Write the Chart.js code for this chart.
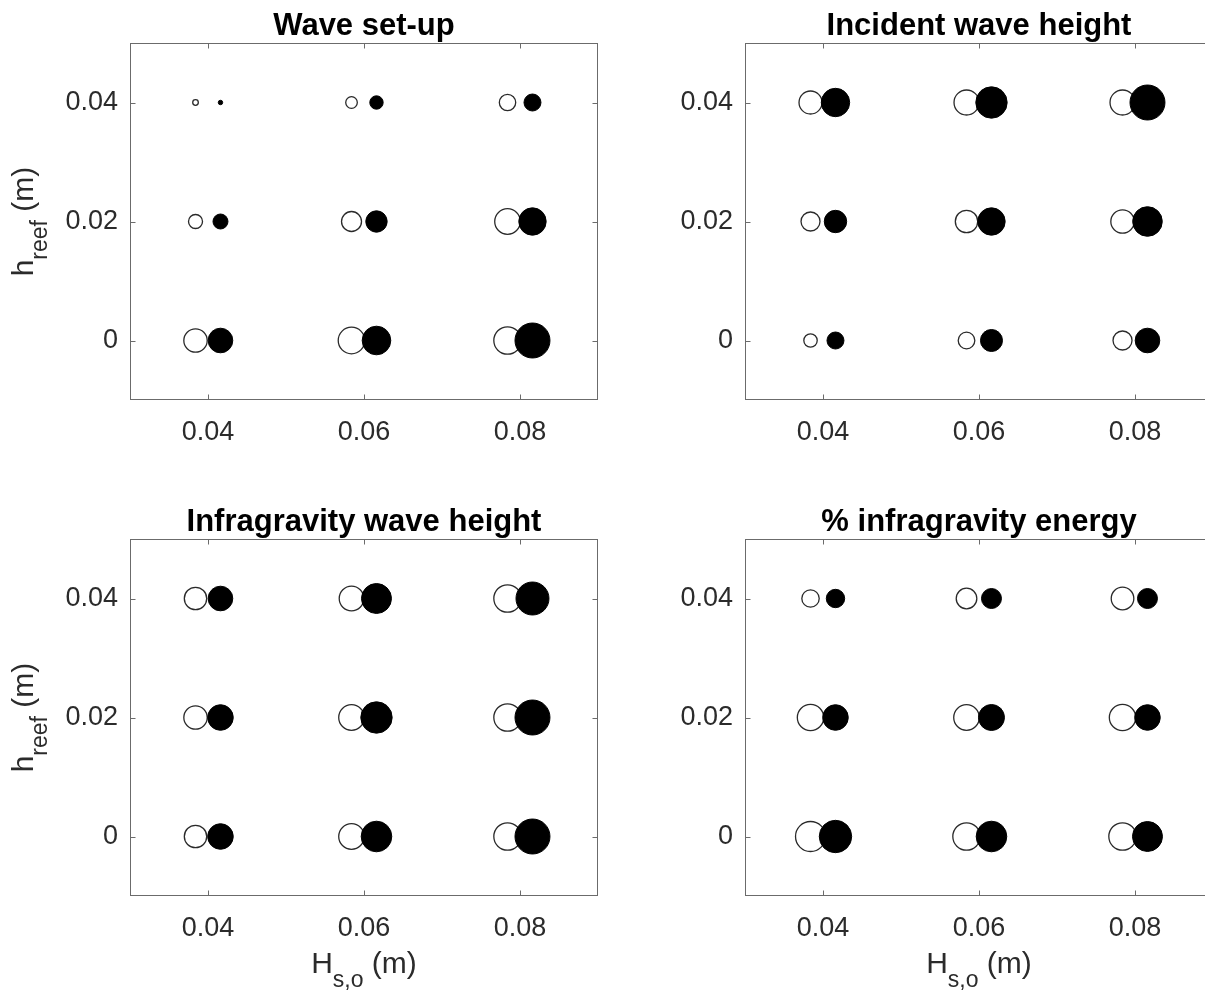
<!DOCTYPE html>
<html>
<head>
<meta charset="utf-8">
<script src="https://cdn.jsdelivr.net/npm/chart.js@4.4.0/dist/chart.umd.min.js"></script>
<style>
  html, body { margin: 0; padding: 0; background: #fff; overflow: hidden; }
  #wrap { position: relative; width: 1205px; height: 996px; overflow: hidden; background: #fff; }
  canvas { position: absolute; }
</style>
</head>
<body>
<div id="wrap">
  <canvas id="c1" width="620" height="500" style="left:0px;top:0px"></canvas>
  <canvas id="c2" width="620" height="500" style="left:615px;top:0px"></canvas>
  <canvas id="c3" width="620" height="500" style="left:0px;top:496px"></canvas>
  <canvas id="c4" width="620" height="500" style="left:615px;top:496px"></canvas>
</div>
<script>
// grid of runs
const xVals = [0.04, 0.06, 0.08];   // H_s,o (m)
const yVals = [0, 0.02, 0.04];      // h_reef (m)
const xTicks = [0.04, 0.06, 0.08];
const yTicks = [0, 0.02, 0.04];

const titles = ["Wave set-up", "Incident wave height", "Infragravity wave height", "% infragravity energy"];

// marker sizes
// rows: h_reef = 0, 0.02, 0.04 ; cols: H_s,o = 0.04, 0.06, 0.08
const setupOpen      = [[12.2, 13.8, 14.2], [7.5, 10.5, 13.3], [3.3, 6.3, 8.7]];
const setupFilled    = [[12.8, 14.8, 18.0], [8.0, 11.2, 14.2], [2.7, 7.2, 9.0]];
const incidentOpen   = [[7.2, 8.8, 10.0], [10.0, 11.7, 12.2], [12.0, 13.0, 13.0]];
const incidentFilled = [[9.0, 11.5, 12.8], [11.7, 14.2, 15.3], [14.7, 16.2, 18.0]];
const igOpen         = [[11.7, 13.3, 14.2], [12.2, 13.3, 14.2], [11.7, 12.8, 14.2]];
const igFilled       = [[13.3, 15.8, 18.0], [13.3, 16.2, 18.0], [12.8, 15.5, 17.0]];
const energyOpen     = [[15.5, 14.2, 14.2], [13.7, 13.3, 13.7], [9.2, 10.8, 11.8]];
const energyFilled   = [[16.7, 15.8, 15.5], [13.3, 13.5, 13.3], [9.7, 10.5, 10.5]];

const pairOffset = 0.0016; // open marker left of the tick, filled marker right

const FONT = '"Liberation Sans", Arial, Helvetica, sans-serif';
const TEXT = "#2b2b2b";
const AXIS = "#6b6b6b";

function points(sizes, dx) {
    const out = [];
    yVals.forEach((y, i) => {
        xVals.forEach((x, j) => {
            out.push({ x: x + dx, y: y, r: sizes[i][j] - 0.5 });
        });
    });
    return out;
}

// draw text with one subscript part, centred on 0
function drawRich(ctx, parts) {
    let total = 0;
    parts.forEach(p => {
        ctx.font = p.size + "px " + FONT;
        p.w = ctx.measureText(p.t).width;
        total += p.w;
    });
    let x = -total / 2;
    ctx.textAlign = "left";
    ctx.textBaseline = "alphabetic";
    parts.forEach(p => {
        ctx.font = p.size + "px " + FONT;
        ctx.fillText(p.t, x, p.dy);
        x += p.w;
    });
}

//box, inward ticks, titles and axis labels (matlab look)
const framePlugin = {
    id: "frame",
    afterDraw(chart, args, opts) {
        const { ctx, chartArea: a, scales } = chart;
        const L = Math.round(a.left) + 0.5, R = Math.round(a.right) - 0.5;
        const T = Math.round(a.top) + 0.5, B = Math.round(a.bottom) - 0.5;
        ctx.save();
        ctx.strokeStyle = AXIS;
        ctx.lineWidth = 1;
        ctx.strokeRect(L, T, R - L, B - T);
        ctx.beginPath();
        xTicks.forEach(v => {
            const px = Math.round(scales.x.getPixelForValue(v)) + 0.5;
            ctx.moveTo(px, B); ctx.lineTo(px, B - 5);
            ctx.moveTo(px, T); ctx.lineTo(px, T + 5);
        });
        yTicks.forEach(v => {
            const py = Math.round(scales.y.getPixelForValue(v)) + 0.5;
            ctx.moveTo(L, py); ctx.lineTo(L + 5, py);
            ctx.moveTo(R, py); ctx.lineTo(R - 5, py);
        });
        ctx.stroke();

        const cx = (a.left + a.right) / 2;
        ctx.fillStyle = "#000";
        ctx.font = "bold 31px " + FONT;
        ctx.textAlign = "center";
        ctx.textBaseline = "alphabetic";
        ctx.fillText(opts.title, cx, a.top - 8);

        ctx.fillStyle = TEXT;
        if (opts.xLabel) {
            ctx.save();
            ctx.translate(cx, a.bottom + 77);
            drawRich(ctx, [
                { t: "H", size: 30, dy: 0 },
                { t: "s,o", size: 23, dy: 14 },
                { t: " (m)", size: 30, dy: 0 }
            ]);
            ctx.restore();
        }
        if (opts.yLabel) {
            ctx.save();
            ctx.translate(33, (a.top + a.bottom) / 2);
            ctx.rotate(-Math.PI / 2);
            drawRich(ctx, [
                { t: "h", size: 30, dy: 0 },
                { t: "reef", size: 23, dy: 14 },
                { t: " (m)", size: 30, dy: 0 }
            ]);
            ctx.restore();
        }
        ctx.restore();
    }
};

function makePanel(id, title, openSizes, filledSizes, xLabel, yLabel) {
    const ctx = document.getElementById(id).getContext("2d");
    return new Chart(ctx, {
        type: "bubble",
        data: {
            datasets: [
                {
                    label: "filled",
                    data: points(filledSizes, pairOffset),
                    backgroundColor: "#000",
                    borderColor: "#000",
                    borderWidth: 1
                },
                {
                    label: "open",
                    data: points(openSizes, -pairOffset),
                    backgroundColor: "rgba(255,255,255,0)",
                    borderColor: "#2a2a2a",
                    borderWidth: 1.3
                }
            ]
        },
        options: {
            responsive: false,
            animation: false,
            events: [],
            layout: { padding: { left: 0, top: 43, right: 22, bottom: 43 }, autoPadding: false },
            plugins: {
                legend: { display: false },
                tooltip: { enabled: false },
                frame: { title: title, xLabel: xLabel, yLabel: yLabel }
            },
            scales: {
                x: {
                    type: "linear",
                    min: 0.03,
                    max: 0.09,
                    grid: { display: false, drawTicks: false },
                    border: { display: false },
                    afterBuildTicks: s => { s.ticks = xTicks.map(v => ({ value: v })); },
                    afterFit: s => { s.height = 57; },
                    ticks: {
                        font: { size: 27, family: FONT },
                        color: TEXT,
                        padding: 16,
                        maxRotation: 0,
                        autoSkip: false,
                        callback: v => String(v)
                    }
                },
                y: {
                    type: "linear",
                    min: -0.01,
                    max: 0.05,
                    grid: { display: false, drawTicks: false },
                    border: { display: false },
                    afterBuildTicks: s => { s.ticks = yTicks.map(v => ({ value: v })); },
                    afterFit: s => { s.width = 130; },
                    ticks: {
                        font: { size: 27, family: FONT },
                        color: TEXT,
                        padding: 12,
                        autoSkip: false,
                        callback: v => String(v)
                    }
                }
            }
        },
        plugins: [framePlugin]
    });
}

makePanel("c1", titles[0], setupOpen, setupFilled, false, true);
makePanel("c2", titles[1], incidentOpen, incidentFilled, false, false);
makePanel("c3", titles[2], igOpen, igFilled, true, true);
makePanel("c4", titles[3], energyOpen, energyFilled, true, false);
</script>
</body>
</html>
